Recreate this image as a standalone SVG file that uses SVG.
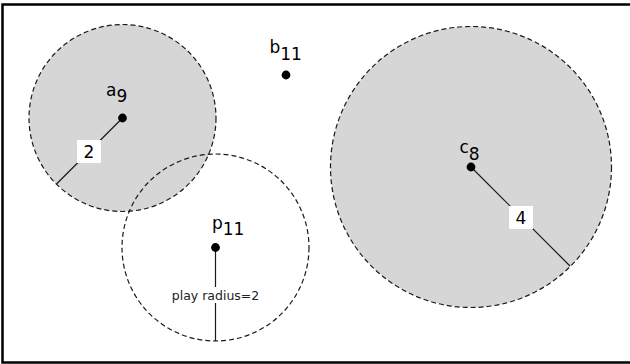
<svg xmlns="http://www.w3.org/2000/svg" width="630" height="364" viewBox="0 0 630 364">
  <style>
    .zone { fill: #d6d6d6; stroke: #1a1a1a; stroke-width: 1.2; stroke-dasharray: 5 3; }
    .play { fill: none; stroke: #1a1a1a; stroke-width: 1.2; stroke-dasharray: 5 3; }
    .radius { stroke: #1a1a1a; stroke-width: 1.2; fill: none; }
    .dot { fill: #000; }
    .lbl { font-family: "DejaVu Sans", "Liberation Sans", sans-serif; font-size: 17px; fill: #000; }
    .tag { fill: #fff; }
    .num { font-family: "DejaVu Sans", "Liberation Sans", sans-serif; font-size: 17px; fill: #000; text-anchor: middle; }
    .note { font-family: "DejaVu Sans", "Liberation Sans", sans-serif; font-size: 12.5px; fill: #222; text-anchor: middle; }
  </style>

  <rect x="0" y="0" width="630" height="364" fill="#fff"/>
  <rect x="2.5" y="4.5" width="630" height="358" fill="none" stroke="#000" stroke-width="2.5"/>

  <!-- shaded ranges -->
  <g id="node-a">
    <circle class="zone" cx="122.5" cy="118" r="93.5"/>
  </g>
  <g id="node-c">
    <circle class="zone" cx="471" cy="167" r="140.5"/>
  </g>
  <g id="node-p">
    <circle class="play" cx="215.5" cy="247.5" r="93.5"/>
  </g>

  <!-- radius connectors -->
  <g id="connectors">
    <line class="radius" x1="122.5" y1="118" x2="56.5" y2="184"/>
    <line class="radius" x1="471" y1="167" x2="570" y2="266"/>
    <line class="radius" x1="215.5" y1="247.5" x2="215.5" y2="341"/>
    <rect class="tag" x="77" y="140" width="24" height="23"/>
    <text class="num" x="89" y="157.5">2</text>
    <rect class="tag" x="509" y="206" width="24" height="23"/>
    <text class="num" x="521" y="223.5">4</text>
    <rect class="tag" x="167" y="287" width="97" height="16"/>
    <text class="note" x="215.5" y="300">play radius=2</text>
  </g>

  <!-- points and their labels -->
  <g id="point-a">
    <circle class="dot" cx="122.5" cy="118" r="4.4"/>
    <text class="lbl" x="106" y="96">a<tspan dy="6">9</tspan></text>
  </g>
  <g id="point-b">
    <circle class="dot" cx="286" cy="75" r="4.4"/>
    <text class="lbl" x="269.5" y="53">b<tspan dy="7">11</tspan></text>
  </g>
  <g id="point-c">
    <circle class="dot" cx="471" cy="167" r="4.4"/>
    <text class="lbl" x="459.5" y="153">c<tspan dy="7">8</tspan></text>
  </g>
  <g id="point-p">
    <circle class="dot" cx="215.5" cy="247.5" r="4.4"/>
    <text class="lbl" x="212" y="229">p<tspan dy="6">11</tspan></text>
  </g>
</svg>
